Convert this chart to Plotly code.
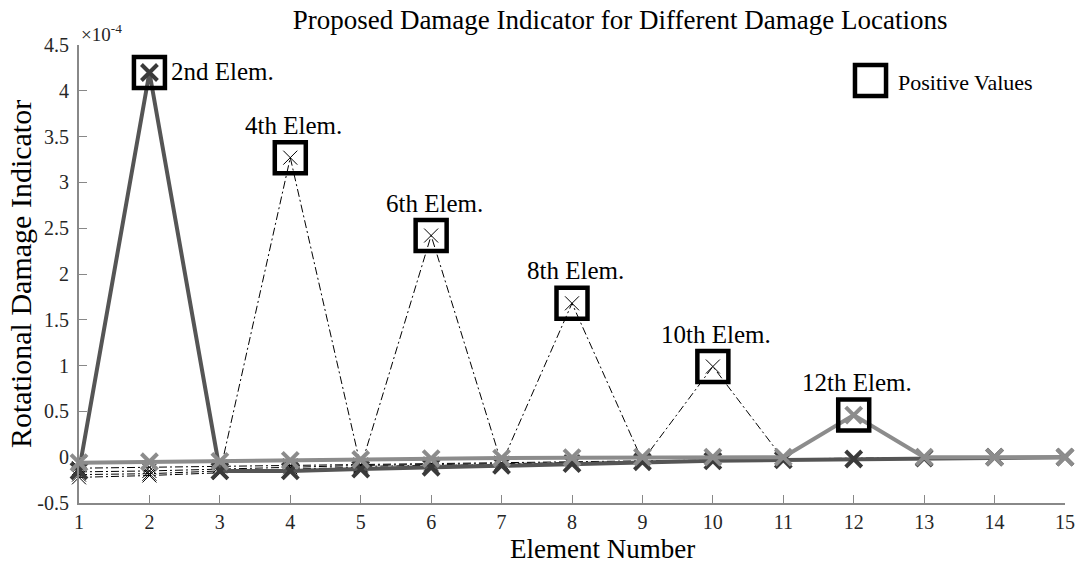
import plotly.graph_objects as go

# ---------------- data (values in units of 1e-4) ----------------
elements = list(range(1, 16))

damage_2nd = [-0.15, 4.20, -0.15, -0.15, -0.13, -0.11, -0.09, -0.07, -0.05, -0.04, -0.03, -0.02, -0.01, 0.00, 0.00]
damage_4th = [-0.22, -0.20, -0.17, 3.27, -0.10, -0.09, -0.08, -0.06, -0.05, -0.04, -0.03, -0.02, -0.01, 0.00, 0.00]
damage_6th = [-0.19, -0.18, -0.15, -0.13, -0.11, 2.42, -0.07, -0.06, -0.05, -0.04, -0.03, -0.02, -0.01, 0.00, 0.00]
damage_8th = [-0.16, -0.15, -0.13, -0.11, -0.09, -0.08, -0.07, 1.68, -0.04, -0.03, -0.02, -0.015, -0.01, 0.00, 0.00]
damage_10th = [-0.12, -0.11, -0.10, -0.09, -0.08, -0.07, -0.06, -0.05, -0.04, 0.99, -0.02, -0.01, -0.005, 0.00, 0.00]
damage_12th = [-0.06, -0.05, -0.045, -0.035, -0.025, -0.015, -0.01, -0.005, 0.00, 0.00, 0.00, 0.46, 0.00, 0.00, 0.00]

peak_labels = ["2nd Elem.", "4th Elem.", "6th Elem.", "8th Elem.", "10th Elem.", "12th Elem."]
legend_label = "Positive Values"

y_tickvals = [-0.5, 0, 0.5, 1, 1.5, 2, 2.5, 3, 3.5, 4, 4.5]
y_ticktext = ["-0.5", "0", "0.5", "1", "1.5", "2", "2.5", "3", "3.5", "4", "4.5"]
x_tickvals = elements

title_text = "Proposed Damage Indicator for Different Damage Locations"
x_title = "Element Number"
y_title = "Rotational Damage Indicator"
exponent_text = "×10<sup>-4</sup>"

# ---------------- figure ----------------
FONT = "Liberation Serif"
fig = go.Figure()

all_series = [damage_2nd, damage_4th, damage_6th, damage_8th, damage_10th, damage_12th]

# thin dash-dot series
for vals in [damage_4th, damage_6th, damage_8th, damage_10th]:
    fig.add_trace(go.Scatter(
        x=elements, y=vals, mode="lines+markers",
        line=dict(color="black", width=1, dash="8px,3px,2px,3px"),
        marker=dict(symbol="x-thin", size=14, color="black",
                    line=dict(width=1, color="black")),
        cliponaxis=False, showlegend=False))

# thick dark gray series (2nd element)
fig.add_trace(go.Scatter(
    x=elements, y=damage_2nd, mode="lines+markers",
    line=dict(color="#555555", width=4),
    marker=dict(symbol="x-thin", size=16, color="#3a3a3a",
                line=dict(width=4, color="#3a3a3a")),
    cliponaxis=False, showlegend=False))

# thick light gray series (12th element)
fig.add_trace(go.Scatter(
    x=elements, y=damage_12th, mode="lines+markers",
    line=dict(color="#8c8c8c", width=4),
    marker=dict(symbol="x-thin", size=16, color="#8c8c8c",
                line=dict(width=4, color="#8c8c8c")),
    cliponaxis=False, showlegend=False))

# positive-value boxes at each peak
peak_x = []
peak_y = []
for vals in all_series:
    m = max(vals)
    peak_x.append(elements[vals.index(m)])
    peak_y.append(m)

fig.add_trace(go.Scatter(
    x=peak_x, y=peak_y, mode="markers", name=legend_label,
    marker=dict(symbol="square-open", size=31, color="black",
                line=dict(width=4.5, color="black")),
    cliponaxis=False, showlegend=False))

annotations = []
for i, (px, py, lab) in enumerate(zip(peak_x, peak_y, peak_labels)):
    if i == 0:
        annotations.append(dict(x=px, y=py, xref="x", yref="y", text=lab,
                                showarrow=False, xanchor="left", yanchor="middle",
                                xshift=20, yshift=1,
                                font=dict(family=FONT, size=25, color="black")))
    else:
        annotations.append(dict(x=px, y=py, xref="x", yref="y", text=lab,
                                showarrow=False, xanchor="center", yanchor="bottom",
                                xshift=3, yshift=17,
                                font=dict(family=FONT, size=25, color="black")))

# exponent label
annotations.append(dict(x=0, y=1, xref="paper", yref="paper", text=exponent_text,
                        showarrow=False, xanchor="left", yanchor="bottom", yshift=-2,
                        font=dict(family=FONT, size=19, color="#262626")))
# axis titles
annotations.append(dict(x=-0.0598, y=0.5, xref="paper", yref="paper", text=y_title,
                        showarrow=False, textangle=-90, xanchor="center", yanchor="middle",
                        font=dict(family=FONT, size=30, color="black")))
annotations.append(dict(x=0.531, y=-0.1004, xref="paper", yref="paper", text=x_title,
                        showarrow=False, xanchor="center", yanchor="middle",
                        font=dict(family=FONT, size=27, color="black")))
# manual legend text
annotations.append(dict(x=0.8286, y=0.919, xref="paper", yref="paper", text=legend_label,
                        showarrow=False, xanchor="left", yanchor="middle",
                        font=dict(family=FONT, size=22, color="black")))

shapes = [dict(type="rect", xref="paper", yref="paper",
               x0=0.787, x1=0.8185, y0=0.8886, y1=0.9563,
               line=dict(color="black", width=4.5), fillcolor="rgba(0,0,0,0)")]

fig.update_layout(
    width=1077, height=565,
    margin=dict(l=79, r=12, t=45, b=62, autoexpand=False),
    paper_bgcolor="white", plot_bgcolor="white",
    title=dict(text=title_text, xref="container", yref="container",
               x=0.5757, y=0.965, xanchor="center", yanchor="middle",
               font=dict(family=FONT, size=27, color="black")),
    annotations=annotations, shapes=shapes,
    showlegend=False,
)
fig.update_xaxes(range=[1, 15], tickvals=x_tickvals, showgrid=False, zeroline=False,
                 automargin=False,
                 showline=True, linecolor="#888888", linewidth=2,
                 ticks="inside", ticklen=8, tickcolor="#888888", tickwidth=1,
                 ticklabelstandoff=0,
                 tickfont=dict(family=FONT, size=20, color="#262626"))
fig.update_yaxes(range=[-0.5, 4.5], tickvals=y_tickvals, ticktext=y_ticktext,
                 showgrid=False, zeroline=False, automargin=False,
                 showline=True, linecolor="#888888", linewidth=2,
                 ticks="inside", ticklen=8, tickcolor="#888888", tickwidth=1,
                 ticklabelstandoff=4,
                 tickfont=dict(family=FONT, size=20, color="#262626"))

fig.write_html("out.html")
